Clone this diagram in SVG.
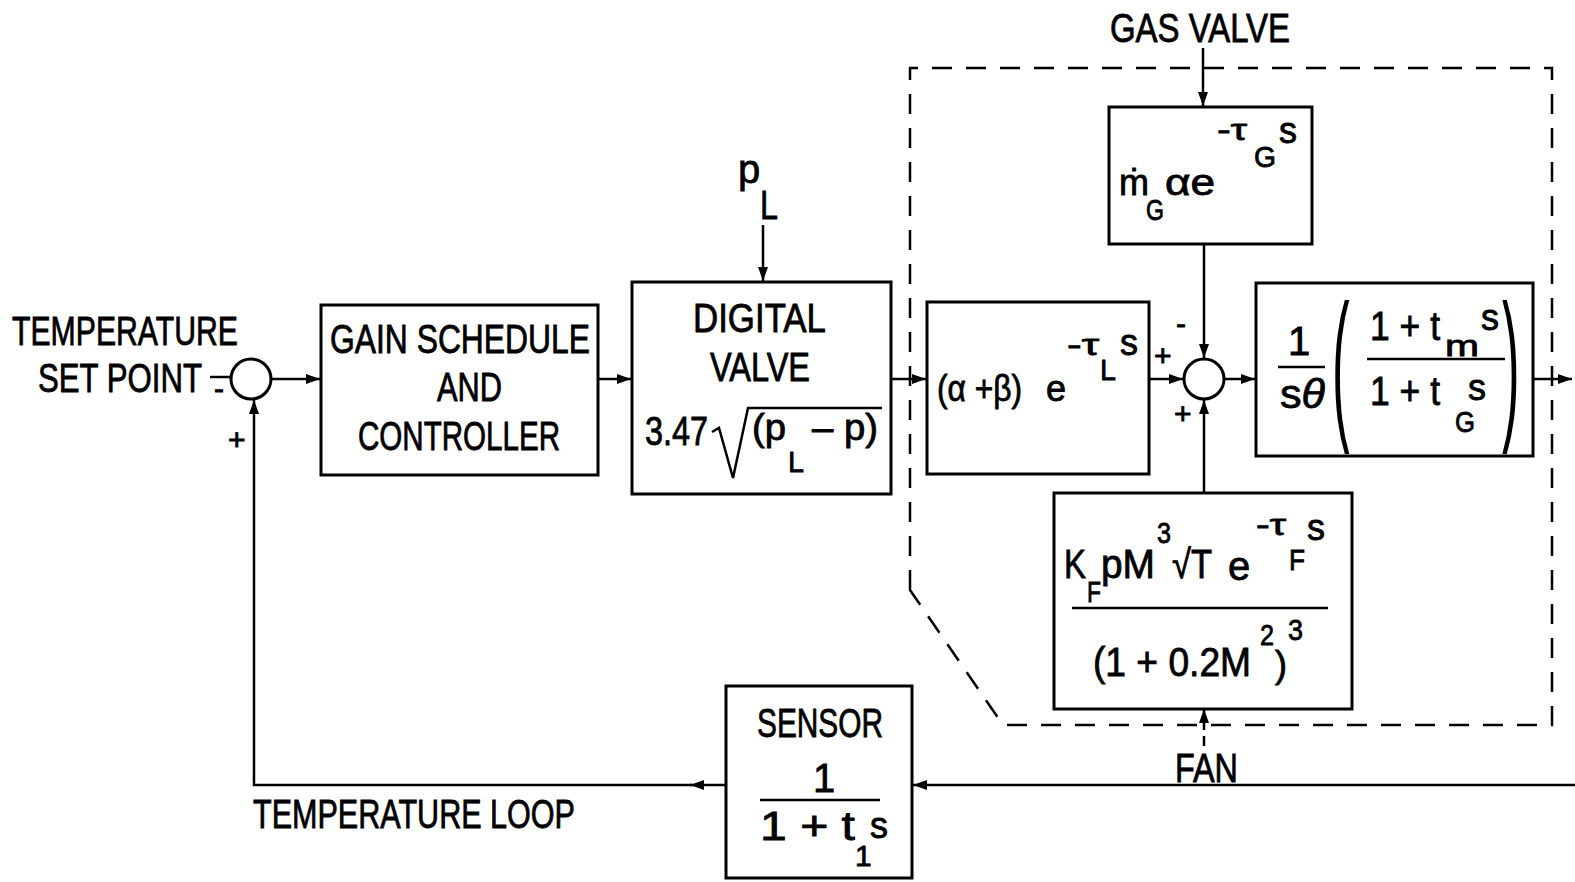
<svg xmlns="http://www.w3.org/2000/svg" width="1575" height="882" viewBox="0 0 1575 882">
<defs>
<style>
.box{fill:none;stroke:#000;stroke-width:3}
.ln{fill:none;stroke:#000;stroke-width:2.5}
.dash{fill:none;stroke:#000;stroke-width:2.5;stroke-dasharray:20 14}
.t,.m,.s,.p{font-family:"Liberation Sans","DejaVu Sans",Arial,sans-serif;fill:#000;stroke:#000;stroke-width:0.8}
.t{font-size:40px}
.m{font-size:36px}
.s{font-size:30px}
.p{font-size:165px;stroke-width:0}
</style>
<marker id="ah" viewBox="0 0 14 10" refX="14" refY="5" markerWidth="14" markerHeight="10" orient="auto" markerUnits="userSpaceOnUse"><path d="M0,0 L14,5 L0,10 z" fill="#000"/></marker>
</defs>
<rect width="1575" height="882" fill="#fff"/>

<g id="boundary">
<path class="dash" d="M910,590 L910,68 L1552,68 L1552,725 L1003,725 Z"/>
</g>

<g id="connectors">
<path class="ln" d="M210,377 L231,377"/>
<path class="ln" d="M271,379 L320,379" marker-end="url(#ah)"/>
<path class="ln" d="M598,379 L631,379" marker-end="url(#ah)"/>
<path class="ln" d="M763,225 L763,281" marker-end="url(#ah)"/>
<path class="ln" d="M891,379 L926,379" marker-end="url(#ah)"/>
<path class="ln" d="M1149,379 L1183,379" marker-end="url(#ah)"/>
<path class="ln" d="M1203,48 L1203,106" marker-end="url(#ah)"/>
<path class="ln" d="M1204,244 L1204,358" marker-end="url(#ah)"/>
<path class="ln" d="M1204,493 L1204,400" marker-end="url(#ah)"/>
<path class="ln" d="M1224,379 L1255,379" marker-end="url(#ah)"/>
<path class="ln" d="M1533,379 L1572,379" marker-end="url(#ah)"/>
<path class="ln" d="M1575,785 L913,785" marker-end="url(#ah)"/>
<path class="ln" d="M726,785 L690,785" marker-end="url(#ah)"/>
<path class="ln" d="M692,785 L254,785 L254,400" marker-end="url(#ah)"/>
<path class="ln" d="M1204,746 L1204,709" stroke-dasharray="10 6" marker-end="url(#ah)"/>
</g>

<g id="setpoint">
<text class="t" x="12" y="345" textLength="226" lengthAdjust="spacingAndGlyphs">TEMPERATURE</text>
<text class="t" x="38" y="392" textLength="164" lengthAdjust="spacingAndGlyphs">SET POINT</text>
<text class="s" x="214" y="399">-</text>
</g>

<g id="sum1">
<circle cx="251" cy="379" r="20" class="box"/>
<text class="s" x="228" y="450">+</text>
</g>

<g id="gain">
<rect x="321" y="305" width="277" height="170" class="box"/>
<text class="t" x="330" y="353" textLength="260" lengthAdjust="spacingAndGlyphs">GAIN SCHEDULE</text>
<text class="t" x="437" y="401" textLength="65" lengthAdjust="spacingAndGlyphs">AND</text>
<text class="t" x="358" y="450" textLength="202" lengthAdjust="spacingAndGlyphs">CONTROLLER</text>
</g>

<g id="pL">
<text class="t" x="738" y="183">p</text>
<text class="t" x="760" y="219" textLength="18" lengthAdjust="spacingAndGlyphs">L</text>
</g>

<g id="digitalvalve">
<rect x="632" y="282" width="259" height="212" class="box"/>
<text class="t" x="693" y="332" textLength="133" lengthAdjust="spacingAndGlyphs">DIGITAL</text>
<text class="t" x="710" y="381" textLength="100" lengthAdjust="spacingAndGlyphs">VALVE</text>
<text class="t" x="645" y="445" textLength="63" lengthAdjust="spacingAndGlyphs">3.47</text>
<path class="ln" d="M712,432 L719,428 L733,478 L748,408 L882,408" stroke-width="3"/>
<text class="m" x="752" y="440" textLength="34" lengthAdjust="spacingAndGlyphs">(p</text>
<text class="s" x="788" y="472" textLength="16" lengthAdjust="spacingAndGlyphs">L</text>
<text class="m" x="812" y="440" textLength="66" lengthAdjust="spacingAndGlyphs">– p)</text>
</g>

<g id="loadvalve">
<rect x="927" y="302" width="222" height="172" class="box"/>
<text class="m" x="937" y="401" textLength="85" lengthAdjust="spacingAndGlyphs">(α +β)</text>
<text class="m" x="1046" y="401">e</text>
<text class="s" x="1067" y="355" textLength="32" lengthAdjust="spacingAndGlyphs">-τ</text>
<text class="s" x="1100" y="380" textLength="16" lengthAdjust="spacingAndGlyphs">L</text>
<text class="m" x="1120" y="355">s</text>
</g>

<g id="gasvalve">
<text class="t" x="1110" y="42" textLength="180" lengthAdjust="spacingAndGlyphs">GAS VALVE</text>
<rect x="1109" y="107" width="203" height="137" class="box"/>
<text class="m" x="1119" y="195">ṁ</text>
<text class="s" x="1146" y="220" textLength="18" lengthAdjust="spacingAndGlyphs">G</text>
<text class="m" x="1165" y="195" textLength="50" lengthAdjust="spacingAndGlyphs">αe</text>
<text class="s" x="1217" y="140" textLength="30" lengthAdjust="spacingAndGlyphs">-τ</text>
<text class="s" x="1254" y="167" textLength="22" lengthAdjust="spacingAndGlyphs">G</text>
<text class="m" x="1279" y="143">s</text>
</g>

<g id="sum2">
<circle cx="1204" cy="379" r="20" class="box"/>
<text class="s" x="1154" y="366">+</text>
<text class="s" x="1176" y="334">-</text>
<text class="s" x="1174" y="424">+</text>
</g>

<g id="plant">
<rect x="1256" y="283" width="277" height="173" class="box"/>
<text class="t" x="1288" y="355">1</text>
<path class="ln" d="M1278,367 L1325,367" stroke-width="3"/>
<text class="t" x="1280" y="408" textLength="45" lengthAdjust="spacingAndGlyphs">s<tspan font-style="italic">θ</tspan></text>
<text class="p" transform="translate(1332,420) scale(0.32,1)">(</text>
<text class="p" transform="translate(1502,420) scale(0.32,1)">)</text>
<text class="t" x="1370" y="340" textLength="70" lengthAdjust="spacingAndGlyphs">1 + t</text>
<text class="s" x="1445" y="356" textLength="34" lengthAdjust="spacingAndGlyphs">m</text>
<text class="m" x="1481" y="330">s</text>
<path class="ln" d="M1367,359 L1505,359" stroke-width="3"/>
<text class="t" x="1370" y="405" textLength="70" lengthAdjust="spacingAndGlyphs">1 + t</text>
<text class="s" x="1455" y="432" textLength="20" lengthAdjust="spacingAndGlyphs">G</text>
<text class="m" x="1468" y="400">s</text>
</g>

<g id="fan">
<rect x="1054" y="493" width="298" height="216" class="box"/>
<text class="t" x="1064" y="578" textLength="22" lengthAdjust="spacingAndGlyphs">K</text>
<text class="s" x="1087" y="602" textLength="14" lengthAdjust="spacingAndGlyphs">F</text>
<text class="t" x="1101" y="578" textLength="54" lengthAdjust="spacingAndGlyphs">pM</text>
<text class="s" x="1157" y="543" textLength="14" lengthAdjust="spacingAndGlyphs">3</text>
<text class="t" x="1172" y="578" textLength="40" lengthAdjust="spacingAndGlyphs">√T</text>
<text class="t" x="1228" y="580">e</text>
<text class="s" x="1256" y="535" textLength="30" lengthAdjust="spacingAndGlyphs">-τ</text>
<text class="s" x="1289" y="570" textLength="16" lengthAdjust="spacingAndGlyphs">F</text>
<text class="m" x="1307" y="540">s</text>
<path class="ln" d="M1072,608 L1328,608" stroke-width="3"/>
<text class="t" x="1093" y="676" textLength="158" lengthAdjust="spacingAndGlyphs">(1 + 0.2M</text>
<text class="s" x="1260" y="645" textLength="14" lengthAdjust="spacingAndGlyphs">2</text>
<text class="m" x="1275" y="677">)</text>
<text class="s" x="1288" y="640" textLength="15" lengthAdjust="spacingAndGlyphs">3</text>
<text class="t" x="1175" y="782" textLength="63" lengthAdjust="spacingAndGlyphs">FAN</text>
</g>

<g id="sensor">
<rect x="726" y="686" width="186" height="192" class="box"/>
<text class="t" x="757" y="737" textLength="126" lengthAdjust="spacingAndGlyphs">SENSOR</text>
<text class="t" x="813" y="792">1</text>
<path class="ln" d="M760,800 L880,800" stroke-width="3"/>
<text class="t" x="760" y="840" textLength="95" lengthAdjust="spacingAndGlyphs">1 + t</text>
<text class="s" x="855" y="866">1</text>
<text class="m" x="870" y="838">s</text>
</g>

<g id="looplabel">
<text class="t" x="253" y="828" textLength="322" lengthAdjust="spacingAndGlyphs">TEMPERATURE LOOP</text>
</g>
</svg>
